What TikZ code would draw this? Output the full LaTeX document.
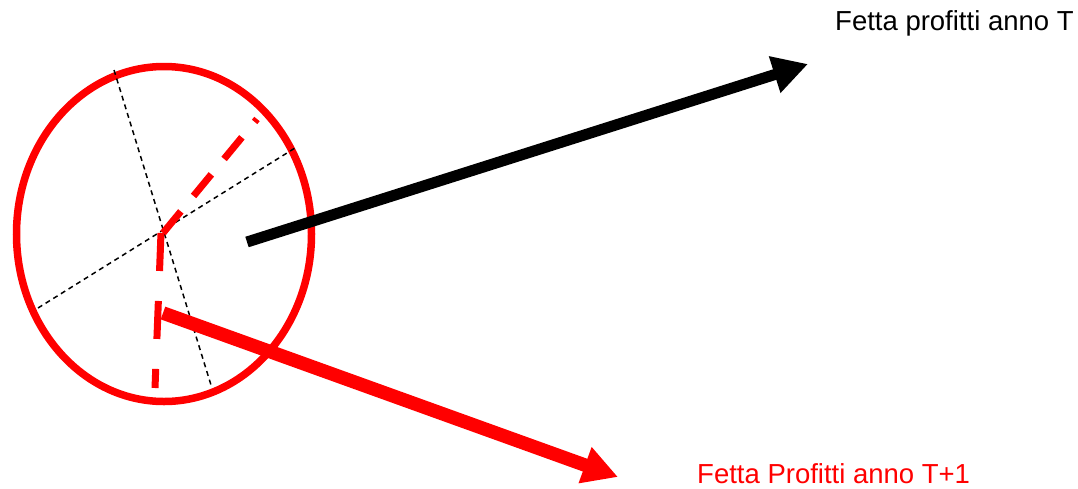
\documentclass[tikz,border=0pt]{standalone}
\usepackage{fontspec}
\setmainfont{Liberation Sans}
\usetikzlibrary{arrows.meta, positioning, shapes.geometric}

\begin{document}
\begin{tikzpicture}[
  x=1pt, y=-1pt,
  pie/.style={ellipse, draw=red, line width=7.5pt, minimum width=295pt,
    minimum height=335pt, inner sep=0pt},
  cut/.style={draw=black, line width=1.5pt, dash pattern=on 5pt off 4pt},
  redcut/.style={draw=red, line width=7pt},
  bigarr/.style={-{Triangle[length=35pt, width=36pt]}, line width=11pt},
  lbl/.style={font=\fontsize{27.5}{30}\selectfont, anchor=base west, inner sep=0pt},
]
  \useasboundingbox (0,0) rectangle (1078,488);

  % the pie
  \node[pie] (torta) at (164,234) {};
  \coordinate (ctr) at (163,233);

  % black cut lines through the centre
  \coordinate (cutA1) at (114,70);
  \coordinate (cutA2) at (211,385);
  \coordinate (cutB1) at (38,308);
  \coordinate (cutB2) at (295,148);
  \draw[cut] (cutA1) -- (cutA2);
  \draw[cut] (cutB1) -- (cutB2);

  % red slice edges
  \coordinate (sliceUp) at (257,119);
  \coordinate (ctrLow) at (161,233);
  \coordinate (sliceDown) at (155,388);
  \draw[redcut, dash pattern=on 28pt off 20pt] (ctr) -- (sliceUp);
  \draw[redcut, dash pattern=on 38pt off 30pt] (ctrLow) -- (sliceDown);

  % labels
  \node[lbl] (annoT) at (835,30) {Fetta profitti anno T};
  \node[lbl, text=red] (annoT1) at (697,483) {Fetta Profitti anno T+1};

  % arrows
  \coordinate (fromT) at (247,242);
  \coordinate (toT) at (808,64);
  \coordinate (fromT1) at (163,313);
  \coordinate (toT1) at (618,477);
  \draw[bigarr, draw=black, fill=black] (fromT) -- (toT);
  \draw[bigarr, draw=red, fill=red, line width=13.5pt] (fromT1) -- (toT1);
\end{tikzpicture}
\end{document}
